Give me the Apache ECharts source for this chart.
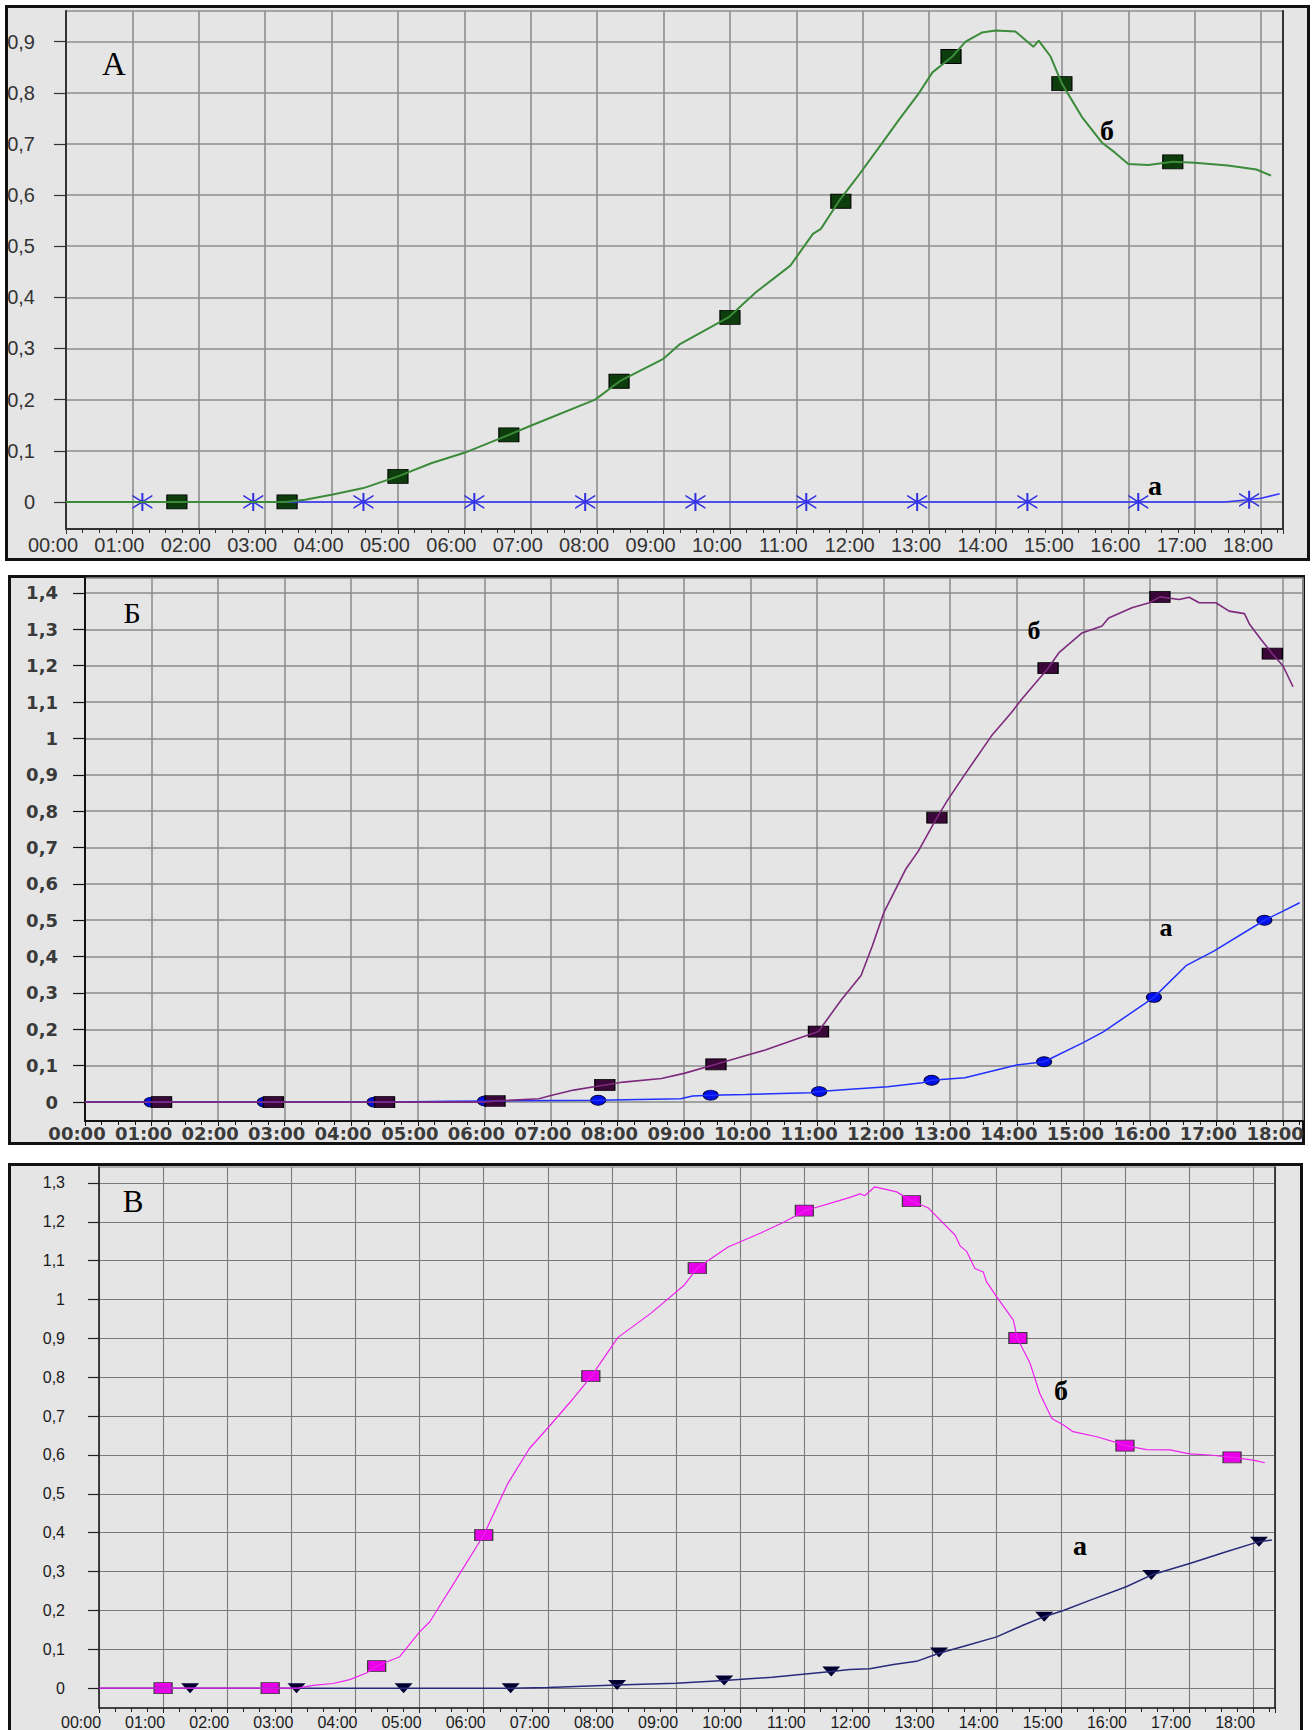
<!DOCTYPE html>
<html><head><meta charset="utf-8">
<script src="https://cdn.jsdelivr.net/npm/echarts@6/dist/echarts.min.js"></script>
<style>
html,body{margin:0;padding:0;background:#fff;}
#wrap{position:relative;width:1313px;height:1730px;overflow:hidden;}
.panel{position:absolute;box-sizing:border-box;border:3px solid #111;background:#e5e5e5;}
#chart{position:absolute;left:0;top:0;width:1313px;height:1730px;}
</style></head>
<body><div id="wrap">
<div class="panel" style="left:5px;top:5px;width:1305px;height:556px"></div>
<div class="panel" style="left:8px;top:575px;width:1297px;height:570px"></div>
<div class="panel" style="left:8px;top:1163px;width:1295px;height:590px"></div>
<div id="chart"></div></div>
<script>
// ---------- Panel A (hours, value) ----------
const A_b_t = [0, 3.3, 3.6, 4.0, 4.48, 5.0, 5.51, 6.0, 6.67, 6.98, 7.97, 8.34, 8.99, 9.24, 9.99, 10.39, 10.91, 11.25, 11.37, 11.64, 11.9, 12.3, 12.55, 12.85, 13.05, 13.35, 13.55, 13.8, 14.0, 14.3, 14.57, 14.65, 14.83, 15.0, 15.3, 15.6, 15.8, 16.0, 16.3, 16.67, 17.0, 17.5, 17.93, 18.15];
const A_b_v = [0, 0, 0.004, 0.014, 0.027, 0.05, 0.076, 0.096, 0.131, 0.148, 0.2, 0.236, 0.279, 0.308, 0.362, 0.41, 0.462, 0.524, 0.534, 0.588, 0.632, 0.703, 0.748, 0.8, 0.84, 0.871, 0.9, 0.918, 0.922, 0.92, 0.89, 0.902, 0.871, 0.818, 0.753, 0.703, 0.683, 0.661, 0.659, 0.665, 0.663, 0.658, 0.65, 0.638];
const A_b_mt = [1.67, 3.33, 5.0, 6.67, 8.33, 10.0, 11.67, 13.33, 15.0, 16.67];
const A_b_mv = [0, 0, 0.05, 0.131, 0.236, 0.361, 0.588, 0.871, 0.818, 0.665];
const A_a_t = [0, 17.45, 17.8, 18.0, 18.28];
const A_a_v = [0, 0, 0.004, 0.007, 0.016];
const A_a_mt = [1.15, 2.82, 4.48, 6.15, 7.82, 9.48, 11.15, 12.82, 14.48, 16.15, 17.82];
const A_a_mv = [0, 0, 0, 0, 0, 0, 0, 0, 0, 0, 0.004];
const A_yTicks = [0, 0.1, 0.2, 0.3, 0.4, 0.5, 0.6, 0.7, 0.8, 0.9];

// ---------- Panel Б ----------
const B_b_t = [0, 6.0, 6.16, 6.82, 7.0, 7.34, 7.81, 8.09, 8.66, 9.0, 9.48, 9.97, 10.22, 10.68, 11.02, 11.37, 11.66, 11.83, 12.0, 12.33, 12.52, 12.8, 12.97, 13.22, 13.62, 13.92, 14.07, 14.47, 14.63, 14.98, 15.28, 15.38, 15.73, 15.99, 16.15, 16.44, 16.59, 16.74, 16.99, 17.19, 17.42, 17.5, 17.67, 17.84, 18.0, 18.15];
const B_b_v = [0, 0, 0.003, 0.009, 0.018, 0.033, 0.047, 0.055, 0.065, 0.079, 0.104, 0.13, 0.143, 0.173, 0.194, 0.283, 0.348, 0.43, 0.52, 0.64, 0.69, 0.782, 0.833, 0.901, 1.007, 1.071, 1.107, 1.193, 1.235, 1.29, 1.309, 1.331, 1.359, 1.373, 1.389, 1.382, 1.388, 1.373, 1.373, 1.35, 1.343, 1.313, 1.272, 1.233, 1.199, 1.142];
const B_b_mt = [1.15, 2.83, 4.5, 6.16, 7.81, 9.48, 11.02, 12.8, 14.47, 16.15, 17.84];
const B_b_mv = [0, 0, 0, 0.003, 0.047, 0.104, 0.194, 0.782, 1.193, 1.389, 1.233];
const B_a_t = [0, 4.6, 5.5, 6.01, 7.71, 8.95, 9.13, 9.4, 9.93, 10.9, 11.03, 11.5, 12.06, 12.58, 12.72, 13.22, 14.0, 14.41, 14.99, 15.3, 16.06, 16.55, 16.96, 17.72, 18.0, 18.25];
const B_a_v = [0, 0, 0.002, 0.003, 0.005, 0.009, 0.017, 0.019, 0.021, 0.026, 0.029, 0.035, 0.042, 0.053, 0.06, 0.067, 0.102, 0.111, 0.163, 0.193, 0.288, 0.376, 0.415, 0.5, 0.525, 0.548];
const B_a_mt = [1.0, 2.7, 4.35, 6.01, 7.71, 9.4, 11.03, 12.72, 14.41, 16.06, 17.72];
const B_a_mv = [0, 0, 0, 0.003, 0.005, 0.019, 0.029, 0.06, 0.111, 0.288, 0.5];
const B_yTicks = [0, 0.1, 0.2, 0.3, 0.4, 0.5, 0.6, 0.7, 0.8, 0.9, 1, 1.1, 1.2, 1.3, 1.4];

// ---------- Panel В ----------
const V_b_t = [0, 3.1, 3.34, 3.65, 3.91, 4.17, 4.33, 4.69, 5.0, 5.16, 5.37, 5.47, 6.0, 6.37, 6.71, 7.06, 7.4, 7.68, 8.09, 8.61, 9.12, 9.33, 9.81, 10.33, 10.67, 11.02, 11.53, 11.71, 11.87, 11.94, 12.1, 12.44, 12.68, 12.93, 13.35, 13.43, 13.53, 13.66, 13.79, 13.84, 14.0, 14.26, 14.32, 14.52, 14.67, 14.86, 15.04, 15.19, 15.56, 15.87, 16.0, 16.34, 16.7, 17.01, 17.32, 17.68, 18.0, 18.18];
const V_b_v = [0, 0, 0.007, 0.012, 0.022, 0.039, 0.057, 0.081, 0.145, 0.171, 0.227, 0.253, 0.394, 0.525, 0.616, 0.681, 0.746, 0.803, 0.902, 0.965, 1.036, 1.081, 1.135, 1.172, 1.198, 1.229, 1.254, 1.263, 1.272, 1.267, 1.29, 1.277, 1.253, 1.236, 1.166, 1.138, 1.124, 1.08, 1.071, 1.046, 1.007, 0.947, 0.901, 0.836, 0.759, 0.694, 0.677, 0.66, 0.647, 0.632, 0.624, 0.614, 0.613, 0.603, 0.6, 0.594, 0.587, 0.58];
const V_b_mt = [1.0, 2.67, 4.33, 6.0, 7.67, 9.33, 11.0, 12.67, 14.33, 16.0, 17.67];
const V_b_mv = [0, 0, 0.057, 0.394, 0.803, 1.081, 1.229, 1.253, 0.901, 0.624, 0.594];
const V_a_t = [0, 6.4, 7.0, 8.08, 9.0, 9.75, 10.5, 11.42, 11.71, 12.02, 12.39, 12.75, 13.1, 13.53, 14.0, 14.41, 14.74, 15.04, 15.45, 16.02, 16.41, 17.01, 17.58, 18.09, 18.29];
const V_a_v = [0, 0, 0.002, 0.008, 0.013, 0.02, 0.028, 0.043, 0.048, 0.05, 0.061, 0.069, 0.09, 0.11, 0.132, 0.162, 0.184, 0.2, 0.226, 0.261, 0.291, 0.321, 0.351, 0.377, 0.381];
const V_a_mt = [1.42, 3.08, 4.75, 6.42, 8.08, 9.75, 11.42, 13.1, 14.74, 16.41, 18.09];
const V_a_mv = [0, 0, 0, 0, 0.008, 0.02, 0.043, 0.092, 0.184, 0.291, 0.377];
const V_yTicks = [0, 0.1, 0.2, 0.3, 0.4, 0.5, 0.6, 0.7, 0.8, 0.9, 1, 1.1, 1.2, 1.3];

// axis ranges and labels
const A_yRange = [-0.053, 0.96], B_yRange = [-0.052, 1.441], V_yRange = [-0.051, 1.341];
const A_xMax = 18.33, B_xMax = 18.30, V_xMax = 18.34;
const panelLetters = ['А', 'Б', 'В'];
const curveNames = ['а', 'б'];

const pair = (t, v) => t.map((x, i) => [x, v[i]]);
const pad2 = n => (n < 10 ? '0' : '') + n;
const xFmt = v => Math.abs(v - Math.round(v)) < 1e-6 ? pad2(Math.round(v)) + ':00' : '';
const yFmt = v => String(Math.round(v * 10) / 10).replace('.', ',');

function mkX(gi, max, lab, axisCol, axisW, splitCol, splitW) {
  return {
    type: 'value', gridIndex: gi, min: 0, max: max, interval: 1,
    axisLine: { show: true, onZero: false, lineStyle: { color: axisCol, width: axisW } },
    axisTick: { show: true, length: 5, lineStyle: { color: axisCol, width: 1 } },
    minorTick: { show: true, splitNumber: 4, length: 4, lineStyle: { color: axisCol, width: 1 } },
    axisLabel: Object.assign({ formatter: xFmt, showMinLabel: true, showMaxLabel: true }, lab),
    splitLine: { show: true, lineStyle: { color: splitCol, width: splitW } }
  };
}
function mkY(gi, range, ticks, lab, axisCol, axisW, splitCol, splitW, tickLen) {
  return {
    type: 'value', gridIndex: gi, min: range[0], max: range[1],
    axisLine: { show: true, onZero: false, lineStyle: { color: axisCol, width: axisW } },
    axisTick: { show: true, customValues: ticks, length: tickLen, lineStyle: { color: axisCol, width: 1.2 } },
    axisLabel: Object.assign({ formatter: yFmt, customValues: ticks }, lab),
    splitLine: { show: true, lineStyle: { color: splitCol, width: splitW } }
  };
}
function mkRight(gi, range, col, w) {
  return {
    type: 'value', gridIndex: gi, position: 'right', min: range[0], max: range[1],
    axisLine: { show: true, onZero: false, lineStyle: { color: col, width: w } },
    axisTick: { show: false }, axisLabel: { show: false }, splitLine: { show: false }
  };
}

const star = 'path://M9,0 L11,0 L11,20 L9,20 Z M0,2 L20,16 L20,18 L0,4 Z M0,16 L20,2 L20,4 L0,18 Z';
const ellipse = 'path://M0,10 A10,10 0 1,1 20,10 A10,10 0 1,1 0,10 Z';

function line(xi, yi, data, color, width) {
  return { type: 'line', xAxisIndex: xi, yAxisIndex: yi, data: data, showSymbol: false, symbol: 'none',
    lineStyle: { color: color, width: width }, itemStyle: { color: color }, silent: true, clip: true };
}
function marks(xi, yi, data, symbol, size, fill, border, bw, rot) {
  return { type: 'scatter', xAxisIndex: xi, yAxisIndex: yi, data: data, symbol: symbol, symbolSize: size,
    symbolRotate: rot || 0, itemStyle: { color: fill, borderColor: border, borderWidth: bw, opacity: 1 }, silent: true };
}
function txt(x, y, s, size, weight) {
  return { type: 'text', x: x, y: y, z: 100,
    style: { text: s, fontFamily: 'Liberation Serif, Times New Roman, serif', fontSize: size, fontWeight: weight,
      fill: '#000', align: 'center', verticalAlign: 'middle', textAlign: 'center', textVerticalAlign: 'middle' } };
}

const labA = { fontFamily: 'Liberation Sans, Arial, sans-serif', fontSize: 20, color: '#333' };
const labB = { fontFamily: 'DejaVu Sans, sans-serif', fontSize: 18, fontWeight: 'bold', color: '#3a3a3a' };
const labV = { fontFamily: 'Liberation Sans, Arial, sans-serif', fontSize: 16, color: '#1a1a1a' };

const chart = echarts.init(document.getElementById('chart'), null, { renderer: 'svg', width: 1313, height: 1730 });
chart.setOption({
  backgroundColor: 'transparent',
  animation: false,
  grid: [
    { left: 66, top: 11, width: 1217, height: 518, show: true, backgroundColor: 'transparent', borderColor: '#8e8e8e', borderWidth: 1.6 },
    { left: 85, top: 578, width: 1218, height: 543, show: true, backgroundColor: 'transparent', borderColor: '#8a8a8a', borderWidth: 1.5 },
    { left: 99, top: 1167, width: 1176, height: 541, show: true, backgroundColor: 'transparent', borderColor: '#7a7a7a', borderWidth: 1.1 }
  ],
  xAxis: [
    mkX(0, A_xMax, Object.assign({ margin: 6, padding: [0, 26, 0, 0] }, labA), '#333', 2, '#8e8e8e', 1.6),
    mkX(1, B_xMax, Object.assign({ margin: 3, padding: [0, 16, 0, 0] }, labB), '#111', 2, '#8a8a8a', 1.5),
    mkX(2, V_xMax, Object.assign({ margin: 6, padding: [0, 36, 0, 0] }, labV), '#222', 1.5, '#7a7a7a', 1.1)
  ],
  yAxis: [
    mkY(0, A_yRange, A_yTicks, Object.assign({ margin: 31 }, labA), '#333', 2, '#8e8e8e', 1.6, 12),
    mkY(1, B_yRange, B_yTicks, Object.assign({ margin: 27, fontSize: 17 }, labB), '#111', 2, '#8a8a8a', 1.5, 12),
    mkY(2, V_yRange, V_yTicks, Object.assign({ margin: 34, fontSize: 17 }, labV), '#222', 1.5, '#7a7a7a', 1.1, 11),
    mkRight(0, A_yRange, '#333', 2),
    mkRight(2, V_yRange, '#222', 1.5)
  ],
  graphic: [
    txt(114, 64, panelLetters[0], 33, 'normal'),
    txt(1107, 130, curveNames[1], 28, 'bold'),
    txt(1155, 485, curveNames[0], 28, 'bold'),
    txt(132, 612, panelLetters[1], 30, 'normal'),
    txt(1034, 630, curveNames[1], 26, 'bold'),
    txt(1166, 927, curveNames[0], 26, 'bold'),
    txt(133, 1201, panelLetters[2], 31, 'normal'),
    txt(1061, 1390, curveNames[1], 28, 'bold'),
    txt(1080, 1545, curveNames[0], 28, 'bold')
  ],
  series: [
    // A
    line(0, 0, pair(A_a_t, A_a_v), '#3535ff', 1.5),
    line(0, 0, pair(A_b_t, A_b_v), '#3b8b3b', 2),
    marks(0, 0, pair(A_b_mt, A_b_mv), 'rect', [20, 14], '#0d3d0d', '#000', 1),
    marks(0, 0, pair(A_a_mt, A_a_mv), star, [20, 18], '#3030e0', '#3030e0', 0),
    // Б
    line(1, 1, pair(B_a_t, B_a_v), '#2030ff', 1.5),
    line(1, 1, pair(B_b_t, B_b_v), '#7d2a7d', 1.6),
    marks(1, 1, pair(B_a_mt, B_a_mv), ellipse, [15, 10], '#0010e8', '#000030', 1),
    marks(1, 1, pair(B_b_mt, B_b_mv), 'rect', [20, 11], '#3a0838', '#000', 1),
    // В
    line(2, 2, pair(V_a_t, V_a_v), '#2a2a7a', 1.5),
    line(2, 2, pair(V_b_t, V_b_v), '#f020f0', 1.2),
    marks(2, 2, pair(V_b_mt, V_b_mv), 'rect', [18, 11], '#e800e8', '#3a3a3a', 1),
    marks(2, 2, pair(V_a_mt, V_a_mv), 'triangle', [18, 10], '#000030', '#000030', 0, 180)
  ]
});
</script>
</body></html>
